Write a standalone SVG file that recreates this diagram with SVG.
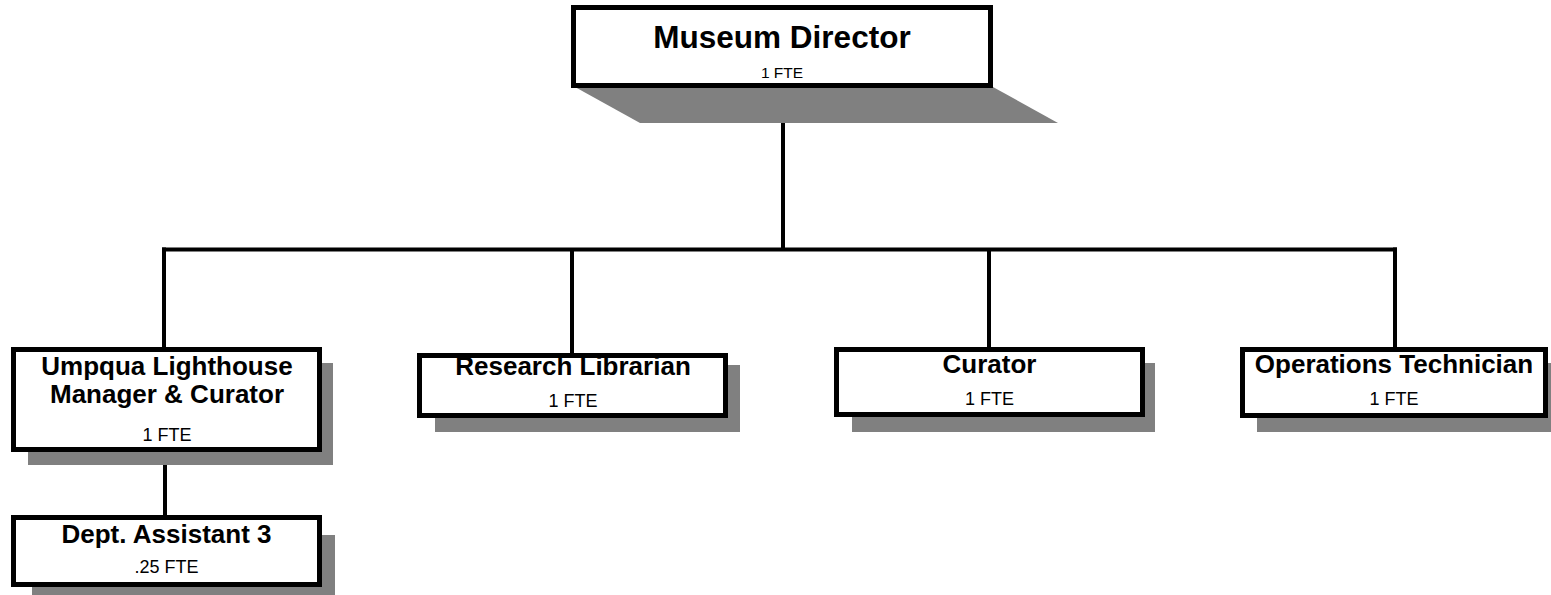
<svg xmlns="http://www.w3.org/2000/svg" width="1551" height="595" viewBox="0 0 1551 595">
<style>
.box{fill:#ffffff;stroke:#000000;stroke-width:5}
.sh{fill:#808080;stroke:none}
.t{font-family:"Liberation Sans",Arial,sans-serif;font-weight:bold;font-size:26px;text-anchor:middle;fill:#000}
.f{font-family:"Liberation Sans",Arial,sans-serif;font-size:18px;text-anchor:middle;fill:#000}
.ln{stroke:#000;stroke-width:4;fill:none}
</style>
<rect width="1551" height="595" fill="#ffffff"/>
<g id="connectors">
<line class="ln" x1="783" y1="122" x2="783" y2="249.5"/>
<line class="ln" x1="162" y1="249.5" x2="1397" y2="249.5"/>
<line class="ln" x1="164" y1="247.5" x2="164" y2="348"/>
<line class="ln" x1="572" y1="249.5" x2="572" y2="354"/>
<line class="ln" x1="989" y1="249.5" x2="989" y2="348"/>
<line class="ln" x1="1395" y1="247.5" x2="1395" y2="348"/>
<line class="ln" x1="165" y1="464" x2="165" y2="516"/>
</g>
<g id="director">
<polygon class="sh" points="575,87 993,87 1058,123 640,123"/>
<rect class="box" x="573.5" y="7.5" width="417" height="78"/>
<text class="t" x="782" y="48" style="font-size:31.5px">Museum Director</text>
<text class="f" x="782" y="78" style="font-size:15.5px">1 FTE</text>
</g>
<g id="umpqua">
<rect class="sh" x="28" y="363" width="305" height="102"/>
<rect class="box" x="13.5" y="349.5" width="306" height="100"/>
<text class="t" x="167" y="375">Umpqua Lighthouse</text>
<text class="t" x="167" y="403">Manager &amp; Curator</text>
<text class="f" x="167" y="441">1 FTE</text>
</g>
<g id="research">
<rect class="sh" x="435" y="365" width="305" height="67"/>
<rect class="box" x="419.5" y="355.5" width="306" height="60"/>
<text class="t" x="573" y="375">Research Librarian</text>
<text class="f" x="573" y="407">1 FTE</text>
</g>
<g id="curator">
<rect class="sh" x="852" y="363" width="303" height="69"/>
<rect class="box" x="836.5" y="349.5" width="306" height="65"/>
<text class="t" x="989.5" y="373">Curator</text>
<text class="f" x="989.5" y="405">1 FTE</text>
</g>
<g id="operations">
<rect class="sh" x="1257" y="363" width="294" height="69"/>
<rect class="box" x="1242.5" y="349.5" width="303" height="66"/>
<text class="t" x="1394" y="373">Operations Technician</text>
<text class="f" x="1394" y="405">1 FTE</text>
</g>
<g id="dept">
<rect class="sh" x="32" y="535" width="303" height="60"/>
<rect class="box" x="13.5" y="517.5" width="306" height="67"/>
<text class="t" x="166.5" y="543">Dept. Assistant 3</text>
<text class="f" x="166.5" y="573">.25 FTE</text>
</g>
</svg>
